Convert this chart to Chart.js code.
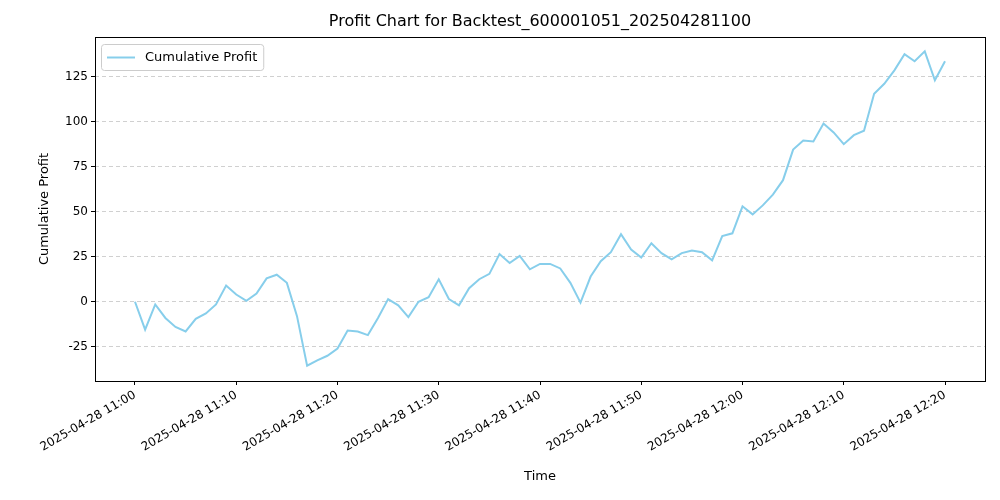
<!DOCTYPE html>
<html>
<head>
<meta charset="utf-8">
<script src="https://cdn.jsdelivr.net/npm/chart.js@4"></script>
<style>
  body { margin: 0; background: #fff; }
  #wrap { width: 1000px; height: 500px; }
</style>
</head>
<body>
<div id="wrap"><canvas id="profitChart"></canvas></div>
<script>
// minutes after 11:00
const minutes = [];
for (let m = 0; m <= 80; m++) minutes.push(m);

const cumulativeProfit = [
  0, -15.5, -1.5, -9, -14, -16.5, -9.5, -6.5, -1.5, 9,
  4, 0.5, 4.5, 13, 15, 10.5, -8, -35.5, -32.5, -30,
  -26, -16, -16.5, -18.5, -9, 1.5, -2, -8.5, 0, 2.5,
  12.5, 1.5, -2, 7.5, 12.5, 15.5, 26.5, 21.5, 25.5, 18,
  21, 21, 18.5, 10.5, -0.5, 14, 22.5, 27.5, 37.5, 29,
  24.5, 32.5, 27, 23.5, 27, 28.5, 27.5, 23, 36.5, 38,
  53, 48.5, 53.5, 59.5, 67.5, 84.5, 89.5, 89, 99, 94,
  87.5, 92.5, 95, 115.5, 121, 128.5, 137.5, 133.5, 139, 123,
  133.5
];

const xTickMinutes = [0, 10, 20, 30, 40, 50, 60, 70, 80];
const xTickLabels = [
  '2025-04-28 11:00', '2025-04-28 11:10', '2025-04-28 11:20',
  '2025-04-28 11:30', '2025-04-28 11:40', '2025-04-28 11:50',
  '2025-04-28 12:00', '2025-04-28 12:10', '2025-04-28 12:20'
];
const yTicks = [-25, 0, 25, 50, 75, 100, 125];

const chartTitle = 'Profit Chart for Backtest_600001051_202504281100';
const xTitle = 'Time';
const yTitle = 'Cumulative Profit';
const seriesLabel = 'Cumulative Profit';
const lineColor = '#87ceeb';
const font = 'DejaVu Sans';

// frame, titles and legend drawn like matplotlib
const decorations = {
  id: 'decorations',
  afterDraw(chart) {
    const ctx = chart.ctx;
    const a = chart.chartArea;
    ctx.save();
    ctx.strokeStyle = '#000';
    ctx.lineWidth = 1;
    ctx.strokeRect(a.left + 0.5, a.top + 0.5, a.right - a.left, a.bottom - a.top);

    ctx.fillStyle = '#000';
    ctx.textAlign = 'center';
    ctx.textBaseline = 'middle';
    ctx.font = '16px "' + font + '"';
    ctx.fillText(chartTitle, (a.left + a.right) / 2, 22);
    ctx.font = '13px "' + font + '"';
    ctx.fillText(xTitle, (a.left + a.right) / 2, 477);
    ctx.save();
    ctx.translate(45, (a.top + a.bottom) / 2);
    ctx.rotate(-Math.PI / 2);
    ctx.fillText(yTitle, 0, 0);
    ctx.restore();

    // legend box
    const lx = a.left + 6, ly = a.top + 7;
    ctx.font = '13px "' + font + '"';
    const w = 44 + ctx.measureText(seriesLabel).width + 6;
    ctx.fillStyle = 'rgba(255,255,255,0.8)';
    ctx.strokeStyle = '#ccc';
    ctx.beginPath();
    ctx.roundRect(lx + 0.5, ly + 0.5, w, 26, 3);
    ctx.fill();
    ctx.stroke();
    ctx.strokeStyle = lineColor;
    ctx.lineWidth = 2;
    ctx.beginPath();
    ctx.moveTo(lx + 6, ly + 13.5);
    ctx.lineTo(lx + 34, ly + 13.5);
    ctx.stroke();
    ctx.fillStyle = '#000';
    ctx.textAlign = 'left';
    ctx.fillText(seriesLabel, lx + 44, ly + 14);
    ctx.restore();
  }
};

new Chart(document.getElementById('profitChart'), {
  type: 'line',
  data: {
    datasets: [{
      label: seriesLabel,
      data: minutes.map((m, i) => ({ x: m, y: cumulativeProfit[i] })),
      borderColor: lineColor,
      borderWidth: 2,
      pointRadius: 0,
      tension: 0
    }]
  },
  options: {
    responsive: true,
    maintainAspectRatio: false,
    animation: false,
    layout: { padding: { top: 37, right: 15, left: 0, bottom: 0 } },
    plugins: { legend: { display: false }, tooltip: { enabled: false } },
    scales: {
      x: {
        type: 'linear',
        min: -3.95,
        max: 83.95,
        afterFit(s) { s.height = 119; },
        afterBuildTicks(s) { s.ticks = xTickMinutes.map(v => ({ value: v })); },
        grid: { display: true, drawOnChartArea: false, tickLength: 4, color: '#000' },
        border: { display: false },
        ticks: {
          minRotation: 30,
          maxRotation: 30,
          color: '#000',
          font: { family: font, size: 12 },
          callback: (v) => xTickLabels[xTickMinutes.indexOf(v)]
        }
      },
      y: {
        min: -44,
        max: 147,
        afterFit(s) { s.width = 95; },
        afterBuildTicks(s) { s.ticks = yTicks.map(v => ({ value: v })); },
        grid: { color: '#d0d0d0', tickLength: 4, tickColor: '#000' },
        border: { display: false, dash: [4, 3] },
        ticks: { color: '#000', font: { family: font, size: 12 } }
      }
    }
  },
  plugins: [decorations]
});
</script>
</body>
</html>
